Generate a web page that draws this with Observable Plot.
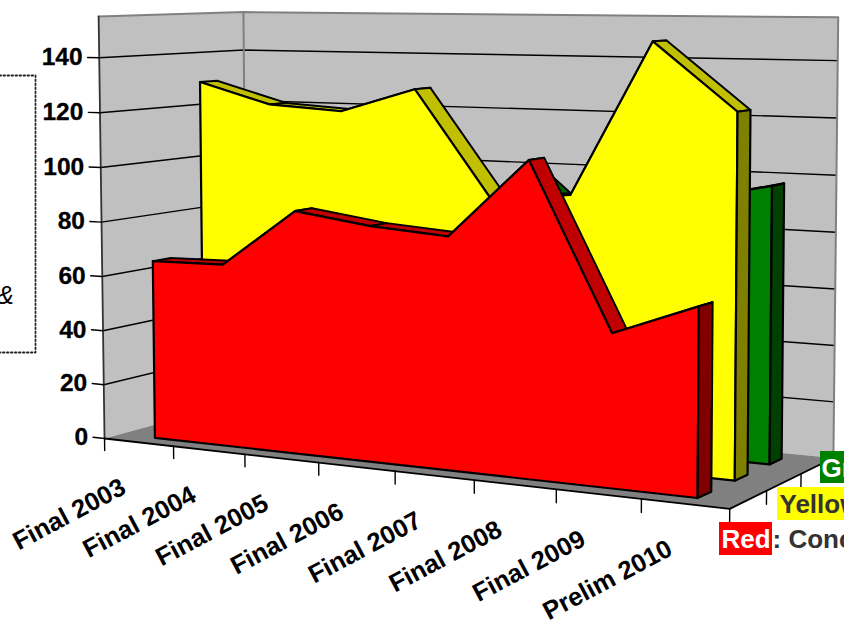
<!DOCTYPE html>
<html><head><meta charset="utf-8">
<script src="https://cdn.jsdelivr.net/npm/d3@7"></script>
<script src="https://cdn.jsdelivr.net/npm/@observablehq/plot@0.6"></script>
<style>html,body{margin:0;padding:0;background:#fff;overflow:hidden}svg{display:block}</style>
</head><body><div id="chart"></div>
<script>
// ---- data
const categories = ["Final 2003","Final 2004","Final 2005","Final 2006","Final 2007","Final 2008","Final 2009","Prelim 2010"];
const redValues    = [65.5, 66, 86.8, 83, 81, 108.3, 52, 63];
const yellowValues = [129.8, 122.2, 120.5, 129.2, 91, 94, 147.5, 124.5];
const greenValues  = [60, 70, 80, 70, 98, 74, 91, 97.3];
const valueTicks = [0,20,40,60,80,100,120,140];
const depthMax = 3, catMax = 8, valueMax = 155;

// ---- camera calibration: (category pos, value, depth) -> page pixel
const anchors = [
 [0,0,0,104,438],[0,valueMax,0,98,16],[0,0,3,246,398],[0,valueMax,3,243,12],
 [8,0,3,833,458],[8,valueMax,3,838,17],[8,0,0,728,508],
 [1,0,0,174,447],[2,0,0,244,454],[3,0,0,318,462],[4,0,0,395,471],[5,0,0,474,480],[6,0,0,556,488],[7,0,0,640,499],
 [8,0,1,767,490],[8,0,2,801,473],[0,140,0,99,56],[0,140,3,243,50],[8,140,3,837,60]
];
function solve(A,b){const n=b.length;for(let i=0;i<n;i++){let p=i;for(let r=i+1;r<n;r++)if(Math.abs(A[r][i])>Math.abs(A[p][i]))p=r;
 [A[i],A[p]]=[A[p],A[i]];[b[i],b[p]]=[b[p],b[i]];
 for(let r=i+1;r<n;r++){const f=A[r][i]/A[i][i];for(let c=i;c<n;c++)A[r][c]-=f*A[i][c];b[r]-=f*b[i];}}
 const x=Array(n).fill(0);for(let i=n-1;i>=0;i--){let s=b[i];for(let c=i+1;c<n;c++)s-=A[i][c]*x[c];x[i]=s/A[i][i];}return x;}
const norm=(u,v,d)=>[u/catMax,v/valueMax,d/depthMax];
const P=(()=>{const rows=[],rhs=[];for(const [u,v,d,sx,sy] of anchors){const [X,Y,Z]=norm(u,v,d);
 rows.push([X,Y,Z,1,0,0,0,0,-sx*X,-sx*Y,-sx*Z]);rhs.push(sx);rows.push([0,0,0,0,X,Y,Z,1,-sy*X,-sy*Y,-sy*Z]);rhs.push(sy);}
 const N=Array.from({length:11},(_,i)=>Array.from({length:11},(_,j)=>d3.sum(rows,r=>r[i]*r[j])));
 const t=Array.from({length:11},(_,i)=>d3.sum(rows,(r,k)=>r[i]*rhs[k]));return solve(N,t);})();
function project(u,v,d){const [X,Y,Z]=norm(u,v,d);const w=P[8]*X+P[9]*Y+P[10]*Z+1;
 return {x:(P[0]*X+P[1]*Y+P[2]*Z+P[3])/w,y:(P[4]*X+P[5]*Y+P[6]*Z+P[7])/w};}

const marks=[];
const poly=(pts,fill,stroke="none",sw=0)=>marks.push(Plot.line(pts.map(p=>project(...p)),{x:"x",y:"y",fill,stroke,strokeWidth:sw,curve:"linear-closed",strokeLinejoin:"round"}));
const seg=(pts,stroke,sw)=>marks.push(Plot.line(pts.map(p=>project(...p)),{x:"x",y:"y",stroke,strokeWidth:sw}));

// walls and floor
poly([[0,0,0],[0,valueMax,0],[0,valueMax,3],[0,0,3]],"#C0C0C0");
poly([[0,0,3],[0,valueMax,3],[8,valueMax,3],[8,0,3]],"#C0C0C0");
poly([[0,0,0],[8,0,0],[8,0,3],[0,0,3]],"#808080");
for(const v of valueTicks.slice(1)){seg([[0,v,0],[0,v,3],[8,v,3]],"#000",1.4);}
seg([[0,valueMax,0],[0,valueMax,3],[8,valueMax,3],[8,0,3]],"#808080",2);
seg([[0,valueMax,3],[0,0,3]],"#808080",2);
seg([[0,valueMax,0],[0,0,0]],"#333",1.8);
seg([[0,0,0],[8,0,0],[8,0,3]],"#000",1.8);
for(const v of valueTicks)seg([[-0.17,v,0],[0,v,0]],"#000",1.4);
for(let u=0;u<=catMax;u++)seg([[u,0,0],[u,-4.5,0]],"#000",1.4);
for(let d=1;d<=depthMax;d++)seg([[8,0,d],[8,-4.5,d]],"#000",1.4);

function area3d(vals,d0,d1,face,top,side){
 const us=vals.map((_,i)=>i+0.5),n=vals.length;
 for(let i=0;i<n-1;i++)poly([[us[i],vals[i],d0],[us[i+1],vals[i+1],d0],[us[i+1],vals[i+1],d1],[us[i],vals[i],d1]],top,"#000",2);
 poly([[us[0],0,d0],...vals.map((v,i)=>[us[i],v,d0]),[us[n-1],0,d0]],face,"#000",2.2);
 poly([[us[n-1],0,d0],[us[n-1],vals[n-1],d0],[us[n-1],vals[n-1],d1],[us[n-1],0,d1]],side,"#000",2.2);
}
area3d(greenValues,2.32,2.68,"#008000","#006000","#004000");
area3d(yellowValues,1.32,1.68,"#FFFF00","#C0C000","#808000");
area3d(redValues,0.32,0.68,"#FF0000","#C00000","#800000");

const font={fontFamily:"Liberation Sans, Arial, sans-serif",fontWeight:"bold"};
marks.push(Plot.text(valueTicks,{x:v=>project(-0.17,v,0).x,y:v=>project(-0.17,v,0).y,text:v=>String(v),textAnchor:"end",dx:-5,fontSize:24.5,fill:"#000",stroke:"#000",strokeWidth:0.3,...font}));
marks.push(Plot.text(categories,{x:(c,i)=>project(i+0.5,0,0).x,y:(c,i)=>project(i+0.5,0,0).y,text:c=>c,textAnchor:"end",rotate:-28,dx:-15,dy:43,fontSize:25.5,fill:"#000",...font}));

// legend, cut off by the page edge as in the reference
marks.push(Plot.rect([{x1:719,x2:772,y1:522,y2:555,f:"#FF0000"},{x1:777,x2:860,y1:487,y2:520,f:"#FFFF00"},{x1:820,x2:860,y1:451,y2:483,f:"#008000"}],{x1:"x1",x2:"x2",y1:"y1",y2:"y2",fill:"f"}));
marks.push(Plot.text([{x:721,y:539,t:"Red",f:"#fff"},{x:772,y:539,t:": Conc",f:"#333"},{x:779,y:504,t:"Yellow",f:"#333"},{x:821,y:468,t:"Gr",f:"#fff"}],{x:"x",y:"y",text:"t",fill:"f",textAnchor:"start",fontSize:26,...font}));

// dotted note box at the left edge
marks.push(Plot.line([{x:-5,y:75},{x:35,y:75},{x:35,y:352},{x:-5,y:352}],{x:"x",y:"y",stroke:"#222",strokeWidth:1.8,strokeDasharray:"1.6 2.4"}));
marks.push(Plot.text(["&"],{x:()=>-4,y:()=>295,text:d=>d,textAnchor:"start",fontSize:26,fontStyle:"italic",fontFamily:"Liberation Sans, Arial, sans-serif",fill:"#000"}));

const chart=Plot.plot({width:844,height:626,margin:0,x:{domain:[0,844],range:[0,844],axis:null},y:{domain:[0,626],range:[0,626],axis:null},style:{background:"#fff"},marks});
document.getElementById("chart").append(chart);
</script></body></html>
